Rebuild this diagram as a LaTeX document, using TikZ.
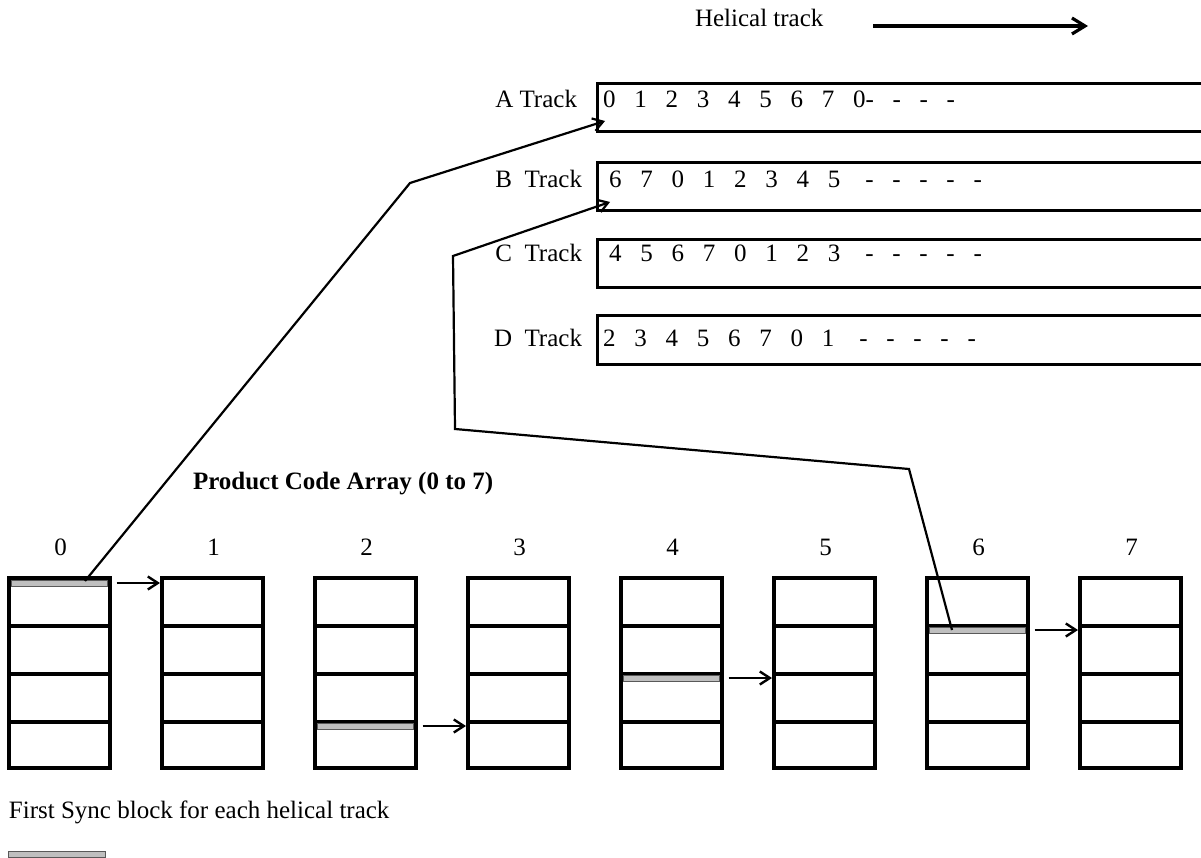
\documentclass[tikz,border=0pt]{standalone}
\usepackage{fontspec}
\setmainfont{Liberation Serif}
\usetikzlibrary{arrows.meta}
\newcommand{\Gp}{\hspace{0.75em}}
\begin{document}
\begin{tikzpicture}[x=1pt,y=-1pt,
  every node/.style={font=\fontsize{25}{30}\selectfont, inner sep=0pt, outer sep=0pt},
  txt/.style={anchor=base west},
  lbl/.style={anchor=base east},
  ctr/.style={anchor=base},
  trackbox/.style={draw, line width=3pt, anchor=north west, minimum width=640pt, minimum height=48pt},
  colbox/.style={draw, line width=3.4pt, minimum width=101pt, minimum height=190pt},
  sep/.style={line width=3.4pt},
  sync/.style={draw=black!65, line width=1pt, fill=black!25, minimum width=96pt, minimum height=6pt},
  conn/.style={line width=2.2pt, line join=miter, -{Straight Barb[length=10pt,width=13pt,line width=2.2pt]}},
  harr/.style={line width=2.2pt, -{Straight Barb[length=10pt,width=13pt,line width=2.4pt]}},
]
\useasboundingbox (0,0) rectangle (1201,858);
\clip (0,0) rectangle (1201,858);

% helical track legend
\node[txt] (ht) at (695,27) {Helical track};
\coordinate (hs) at (873,26);
\coordinate (he) at (1088,26);
\draw[line width=3.2pt, -{Straight Barb[length=13pt,width=16pt,line width=3.2pt]}] (hs) -- (he);

% tracks
\node[trackbox] (A) at (597,84) {};
\node[trackbox] (B) at (597,163) {};
\node[trackbox] (C) at (597,240) {};
\node[trackbox] (D) at (597,316) {};

\node[lbl] (Al) at (577,108) {A Track};
\node[lbl] (Bl) at (582,188) {B\hspace{0.5em}Track};
\node[lbl] (Cl) at (582,262) {C\hspace{0.5em}Track};
\node[lbl] (Dl) at (582,346) {D\hspace{0.5em}Track};

\node[txt] (At) at (603,108) {0\Gp1\Gp2\Gp3\Gp4\Gp5\Gp6\Gp7\Gp0-\Gp-\Gp-\Gp-};
\node[txt] (Bt) at (609,188) {6\Gp7\Gp0\Gp1\Gp2\Gp3\Gp4\Gp5\hspace{1em}-\Gp-\Gp-\Gp-\Gp-};
\node[txt] (Ct) at (609,262) {4\Gp5\Gp6\Gp7\Gp0\Gp1\Gp2\Gp3\hspace{1em}-\Gp-\Gp-\Gp-\Gp-};
\node[txt] (Dt) at (603,346) {2\Gp3\Gp4\Gp5\Gp6\Gp7\Gp0\Gp1\hspace{1em}-\Gp-\Gp-\Gp-\Gp-};

% product code array
\node[txt] (pca) at (193,489) {\bfseries Product Code Array (0 to 7)};

\foreach \i in {0,...,7} {
  \node[colbox] (c\i) at (59.5+153*\i,673) {};
  \node[ctr] (n\i) at (60.5+153*\i,555) {\i};
  \foreach \yy in {626,674,722}
    \draw[sep] (c\i.west |- 0,\yy) -- (c\i.east |- 0,\yy);
}

% first sync blocks
\node[sync] (s0) at (59.5,583) {};
\node[sync] (s2) at (365.5,726) {};
\node[sync] (s4) at (671.5,678) {};
\node[sync] (s6) at (977.5,630) {};

\draw[harr] ([xshift=9pt]s0.east) -- ([xshift=-2pt]c1.west |- s0.east);
\draw[harr] ([xshift=9pt]s2.east) -- ([xshift=-2pt]c3.west |- s2.east);
\draw[harr] ([xshift=9pt]s4.east) -- ([xshift=-2pt]c5.west |- s4.east);
\draw[harr] ([xshift=9pt]s6.east) -- ([xshift=-2pt]c7.west |- s6.east);

% connectors to tracks
\coordinate (p0) at (85,581);
\coordinate (q0) at (410,183);
\coordinate (tA) at (605,121);
\draw[conn] (p0) -- (q0) -- (tA);

\coordinate (p6) at (952,630);
\coordinate (q6a) at (909,469);
\coordinate (q6b) at (455,429);
\coordinate (q6c) at (453,256);
\coordinate (tB) at (610,202);
\draw[conn] (p6) -- (q6a) -- (q6b) -- (q6c) -- (tB);

% legend
\node[txt] (leg) at (9,818) {First Sync block for each helical track};
\node[sync, minimum width=97pt] (legs) at (56.5,854) {};
\end{tikzpicture}
\end{document}
